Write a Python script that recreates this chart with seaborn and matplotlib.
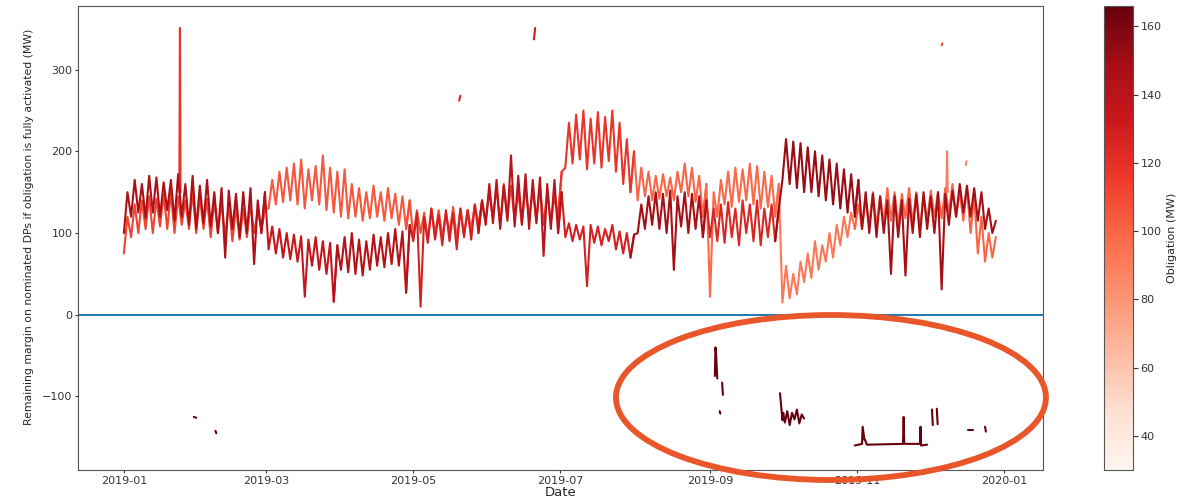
import pandas as pd
import matplotlib
matplotlib.use('Agg')
import matplotlib.pyplot as plt
import matplotlib.dates as mdates
from matplotlib.colors import Normalize
from matplotlib.cm import ScalarMappable
from matplotlib.patches import Ellipse
import seaborn as sns

sns.set_style('ticks')
plt.rcParams['font.family'] = ['DejaVu Sans']

# main traces: low / high of each 3-day window
dates = pd.date_range('2019-01-01', periods=121, freq='3D')

hi_a = [150, 165, 160, 170, 168, 162, 165, 172, 160, 170, 158, 165, 150, 155, 152, 148, 150, 155, 140, 150,
        108, 105, 100, 98, 96, 92, 95, 90, 88, 85,
        95, 100, 92, 90, 98, 95, 100, 105, 102, 110,
        125, 120, 130, 122, 128, 125, 130, 128, 135, 140,
        160, 165, 158, 195, 170, 172, 165, 168, 160, 165, 150,
        112, 110, 108, 110, 108, 105, 110, 102, 100, 98,
        135, 145, 150, 148, 152, 145, 150, 148, 145, 140,
        130, 135, 138, 130, 140, 135, 140, 130, 135, 130,
        215, 212, 210, 205, 200, 195, 190, 185, 178, 172, 165,
        150, 148, 145, 140, 145, 140, 142, 148, 150, 145, 150, 148, 152, 160, 158, 155, 150, 130, 115]
lo_a = [100, 120, 125, 118, 125, 120, 128, 115, 120, 110, 105, 112, 108, 100, 70, 105, 95, 100, 62, 100,
        80, 75, 70, 68, 65, 22, 60, 55, 50, 16,
        55, 52, 50, 48, 55, 60, 58, 62, 60, 27,
        90, 10, 88, 92, 85, 90, 80, 95, 92, 100,
        110, 112, 105, 115, 108, 110, 105, 112, 72, 105, 100,
        95, 90, 92, 35, 88, 85, 90, 80, 75, 70,
        100, 105, 110, 105, 100, 55, 108, 100, 105, 95,
        95, 90, 88, 95, 85, 100, 90, 85, 95, 90,
        165, 160, 155, 150, 150, 145, 140, 135, 130, 125, 120,
        105, 100, 95, 100, 50, 95, 48, 100, 95, 105, 100, 31, 110, 120, 125, 120, 115, 105, 100]
breaks_a = [0, 20, 30, 40, 50, 61, 71, 81, 91, 102]
obl_a = [145, 135, 142, 128, 140, 128, 148, 125, 152, 148]

hi_b = [120, 135, 140, 145, 142, 148, 150, 145, 140, 150, 145, 142, 140, 138, 135, 132, 130, 135, 128, 130,
        165, 175, 180, 185, 190, 178, 182, 195, 180, 175, 178, 160, 155, 150, 158, 150, 155, 148, 145, 140,
        128, 125, 130, 128, 125, 132, 130, 128, 135, 138,
        150, 155, 160, 158, 150, 155, 152, 158, 150, 145, 175,
        235, 245, 250, 240, 248, 242, 250, 235, 215, 200,
        180, 175, 170, 172, 168, 175, 185, 180, 170, 160,
        150, 165, 175, 180, 178, 185, 182, 175, 170, 160,
        60, 50, 65, 75, 90, 85, 100, 110, 120, 125, 135,
        140, 150, 145, 155, 150, 148, 155, 150, 145, 152, 150, 155, 160, 150, 155, 145, 120, 100, 95]
lo_b = [75, 95, 100, 105, 100, 108, 105, 100, 110, 105, 100, 105, 95, 100, 95, 90, 92, 95, 100, 105,
        130, 135, 138, 140, 135, 130, 140, 135, 128, 125, 120, 118, 120, 115, 118, 120, 115, 118, 110, 105,
        95, 100, 92, 98, 95, 100, 92, 98, 105, 110,
        115, 118, 110, 120, 115, 112, 118, 115, 110, 112, 120,
        180, 185, 190, 178, 185, 180, 188, 175, 160, 150,
        140, 145, 140, 142, 145, 140, 150, 145, 138, 120,
        22, 120, 135, 132, 138, 140, 135, 130, 132, 120,
        15, 20, 25, 40, 45, 55, 65, 70, 85, 95, 105,
        105, 110, 108, 112, 115, 110, 118, 112, 105, 115, 120, 118, 125, 120, 115, 100, 75, 65, 70]
breaks_b = [0, 20, 40, 50, 61, 71, 81, 91, 102]
obl_b = [112, 105, 108, 115, 118, 100, 98, 92, 100]

# short isolated pieces (outliers and negative margins)
piece_dates = [
    ['2019-01-24 00:00', '2019-01-24 06:00', '2019-01-24 12:00'],
    ['2019-05-20 00:00', '2019-05-20 12:00'],
    ['2019-06-20 00:00', '2019-06-20 12:00'],
    ['2019-12-06 00:00', '2019-12-06 08:00'],
    ['2019-12-08 00:00', '2019-12-08 06:00', '2019-12-08 12:00'],
    ['2019-12-16 00:00', '2019-12-16 08:00'],
    ['2019-01-30', '2019-01-31'],
    ['2019-02-08 00:00', '2019-02-08 08:00'],
    ['2019-09-03 00:00', '2019-09-03 06:00', '2019-09-03 12:00', '2019-09-04 00:00'],
    ['2019-09-05 00:00', '2019-09-05 06:00'],
    ['2019-09-06 00:00', '2019-09-06 08:00'],
    ['2019-09-30 00:00', '2019-10-01 00:00', '2019-10-01 08:00', '2019-10-02',
     '2019-10-03', '2019-10-04', '2019-10-05', '2019-10-06', '2019-10-07',
     '2019-10-08', '2019-10-09', '2019-10-10'],
    ['2019-10-31 00:00', '2019-11-03 00:00', '2019-11-03 06:00', '2019-11-04 00:00',
     '2019-11-04 06:00', '2019-11-05 00:00', '2019-11-20 00:00', '2019-11-20 06:00',
     '2019-11-20 12:00', '2019-11-27 00:00', '2019-11-27 06:00', '2019-11-27 12:00',
     '2019-11-30 00:00'],
    ['2019-12-02 00:00', '2019-12-02 08:00'],
    ['2019-12-04 00:00', '2019-12-04 08:00'],
    ['2019-12-17', '2019-12-19'],
    ['2019-12-24 00:00', '2019-12-24 08:00'],
]
piece_margin = [
    [150, 351, 150],
    [262, 268],
    [337, 351],
    [330, 332],
    [150, 200, 150],
    [183, 188],
    [-125, -126],
    [-142, -145],
    [-75, -40, -48, -78],
    [-118, -121],
    [-83, -98],
    [-96, -129, -120, -132, -118, -135, -120, -128, -116, -133, -122, -127],
    [-160, -158, -137, -153, -153, -159, -158, -125, -158, -158, -137, -160, -159],
    [-116, -135],
    [-115, -134],
    [-141, -141],
    [-137, -143],
]
piece_obl = [118, 125, 130, 112, 90, 85, 166, 166, 166, 166, 166, 166, 166, 166, 166, 166, 166]

# each 3-day window: low at its start, high half way through
half = pd.Timedelta(hours=36)
rows = []
unit = 0
for hi, lo, breaks, obl in [(hi_a, lo_a, breaks_a, obl_a), (hi_b, lo_b, breaks_b, obl_b)]:
    ends = breaks[1:] + [len(hi)]
    for start, end, level in zip(breaks, ends, obl):
        for i in range(max(start - 1, 0), end):
            rows.append({'date': dates[i], 'margin': lo[i], 'obligation': level, 'unit': unit})
            rows.append({'date': dates[i] + half, 'margin': hi[i], 'obligation': level, 'unit': unit})
        unit += 1
for d_list, m_list, level in zip(piece_dates, piece_margin, piece_obl):
    for d, m in zip(d_list, m_list):
        rows.append({'date': pd.Timestamp(d), 'margin': m, 'obligation': level, 'unit': unit})
    unit += 1
df = pd.DataFrame(rows)

norm = Normalize(vmin=30, vmax=166)

fig = plt.figure(figsize=(11.91, 4.98), dpi=100)
ax = fig.add_axes([0.0655, 0.0562, 0.8102, 0.932])
cax = fig.add_axes([0.927, 0.0562, 0.0243, 0.932])

sns.lineplot(data=df, x='date', y='margin', hue='obligation', units='unit',
             estimator=None, palette='Reds', hue_norm=norm, sort=False,
             legend=False, linewidth=1.5, ax=ax)
ax.axhline(0, color='tab:blue', linewidth=1.4, zorder=0)

ax.set_xlim(pd.Timestamp('2018-12-13'), pd.Timestamp('2020-01-17'))
ax.set_ylim(-190, 378)
ax.set_yticks([-100, 0, 100, 200, 300])
ax.xaxis.set_major_locator(mdates.MonthLocator(bymonth=[1, 3, 5, 7, 9, 11]))
ax.xaxis.set_major_formatter(mdates.DateFormatter('%Y-%m'))
ax.tick_params(labelsize=8, colors='#333333', length=2.5, pad=1.5)
ax.set_xlabel('Date', fontsize=9.5, labelpad=0)
ax.set_ylabel('Remaining margin on nominated DPs if obligation is fully activated (MW)',
              fontsize=7.8)
ax.yaxis.set_label_coords(-0.046, 0.523)
for s in ax.spines.values():
    s.set_visible(True)
    s.set_color('#555555')

sm = ScalarMappable(norm=norm, cmap='Reds')
cb = fig.colorbar(sm, cax=cax)
cb.set_ticks([40, 60, 80, 100, 120, 140, 160])
cb.ax.tick_params(labelsize=8, colors='#333333', length=3.5, pad=2)
cb.set_label('Obligation (MW)', fontsize=8)
cb.outline.set_edgecolor('#555555')

# hand-drawn highlight around the negative margins
ring = Ellipse((0.6977, 0.2018), 0.3610, 0.3313, transform=fig.transFigure,
               fill=False, edgecolor='#E8562A', linewidth=4.2, zorder=10)
fig.add_artist(ring)

fig.savefig('out.png', dpi=100)
